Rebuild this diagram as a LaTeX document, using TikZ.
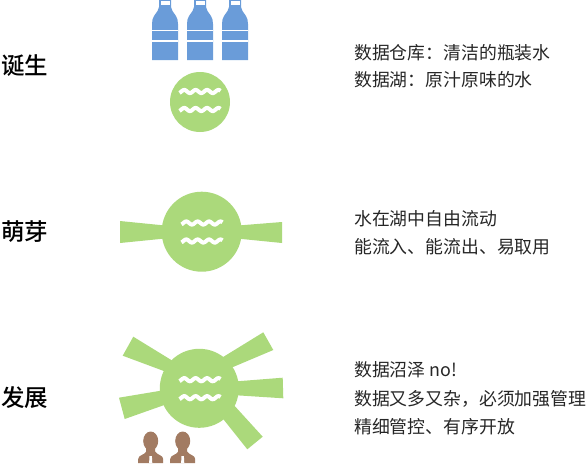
\documentclass[tikz,border=0pt]{standalone}
\usepackage{fontspec}
\usepackage{xcolor}
\setmainfont{Noto Sans CJK SC}
\newfontfamily\stagefont{Noto Sans CJK SC Medium}
\usetikzlibrary{calc}
\definecolor{lakegreen}{HTML}{ABD97B}
\definecolor{bottleblue}{HTML}{6A9CD9}
\definecolor{userbrown}{HTML}{A27B62}
\tikzset{
  stage/.style={font=\fontsize{23.5}{23.5}\selectfont\stagefont, anchor=west, inner sep=0pt},
  note/.style={font=\fontsize{17.85}{18}\selectfont, anchor=west, inner sep=0pt, text=black!85},
  waves/.pic={
    \foreach \yw in {-9,9}
      \draw[white, line width=4pt, smooth, domain=-20.5:20.5, samples=41]
        plot (\x, {\yw-1.6*sin((\x+20.5)*360/11.4-60)});
  },
  bottle/.pic={
    \fill[bottleblue] (-13,60) -- (13,60) -- (13,24) .. controls (13,17) and (10,15) .. (7.5,11)
      -- (6,7) -- (6,0) -- (-6,0) -- (-6,7) -- (-7.5,11) .. controls (-10,15) and (-13,17) .. (-13,24) -- cycle;
    \fill[white] (-4.5,0.7) rectangle (4.5,4.5);
    \fill[white] (-13,29.5) rectangle (13,30.7);
    \fill[white] (-13,40.3) rectangle (13,41.5);
  },
  person/.pic={
    \fill[userbrown] (0,-0.5) ellipse (7.5 and 9.5);
    \fill[userbrown] (-12.5,21.7) -- (-12.5,17.5) .. controls (-12.5,13.5) and (-6,13.5) .. (-4.5,10)
      -- (-4.5,6) -- (4.5,6) -- (4.5,10) .. controls (6,13.5) and (12.5,13.5) .. (12.5,17.5) -- (12.5,21.7) -- cycle;
    \fill[white] (-1.2,14.7) -- (1.2,14.7) -- (1.6,21.7) -- (-1.6,21.7) -- cycle;
  }
}
\begin{document}
\begin{tikzpicture}[x=1pt, y=-1pt]
  \useasboundingbox (0,0) rectangle (587,464);
  % bottles and first lake
  \foreach \xb in {165,200,235}
    \pic at (\xb,0) {bottle};
  \fill[lakegreen] (200,102) circle (30);
  \pic at (200,100.5) {waves};
  % second lake with two streams
  \fill[lakegreen] (120,221) -- (170,226) -- (170,238) -- (120,243) -- cycle;
  \fill[lakegreen] (282,222) -- (232,226) -- (232,238) -- (282,243) -- cycle;
  \fill[lakegreen] (201.7,231.7) circle (40);
  \pic at (202,232) {waves};
  % third lake with many streams
  \fill[lakegreen] (133.3,336.7) -- (122.7,355.7) -- (170,373.3) -- (175,362.3) -- cycle;
  \fill[lakegreen] (263.3,332.3) -- (273.3,350) -- (230,368.3) -- (222,357.7) -- cycle;
  \fill[lakegreen] (282.7,377.7) -- (283.3,398.3) -- (232,395) -- (232,381.7) -- cycle;
  \fill[lakegreen] (262.7,436.7) -- (247.3,449.3) -- (220,415) -- (232,403) -- cycle;
  \fill[lakegreen] (119,397.7) -- (124.7,419) -- (170,403) -- (165,390) -- cycle;
  \fill[lakegreen] (199.3,388.3) circle (39.5);
  \pic at (200,388.7) {waves};
  \foreach \xp in {150.7,182.7}
    \pic at (\xp,441.5) {person};
  % labels
  \node[stage] (birth) at (1,66) {诞生};
  \node[stage] (sprout) at (1,232) {萌芽};
  \node[stage] (growth) at (1,398) {发展};
  \node[note] (noteA) at (354,52.5) {数据仓库：清洁的瓶装水};
  \node[note] (noteB) at (354,79.5) {数据湖：原汁原味的水};
  \node[note] (noteC) at (354,218.5) {水在湖中自由流动};
  \node[note] (noteD) at (354,246.5) {能流入、能流出、易取用};
  \node[note] (noteE) at (354,369.5) {数据沼泽 no!};
  \node[note] (noteF) at (354,398.5) {数据又多又杂，必须加强管理};
  \node[note] (noteG) at (354,426.5) {精细管控、有序开放};
\end{tikzpicture}
\end{document}
